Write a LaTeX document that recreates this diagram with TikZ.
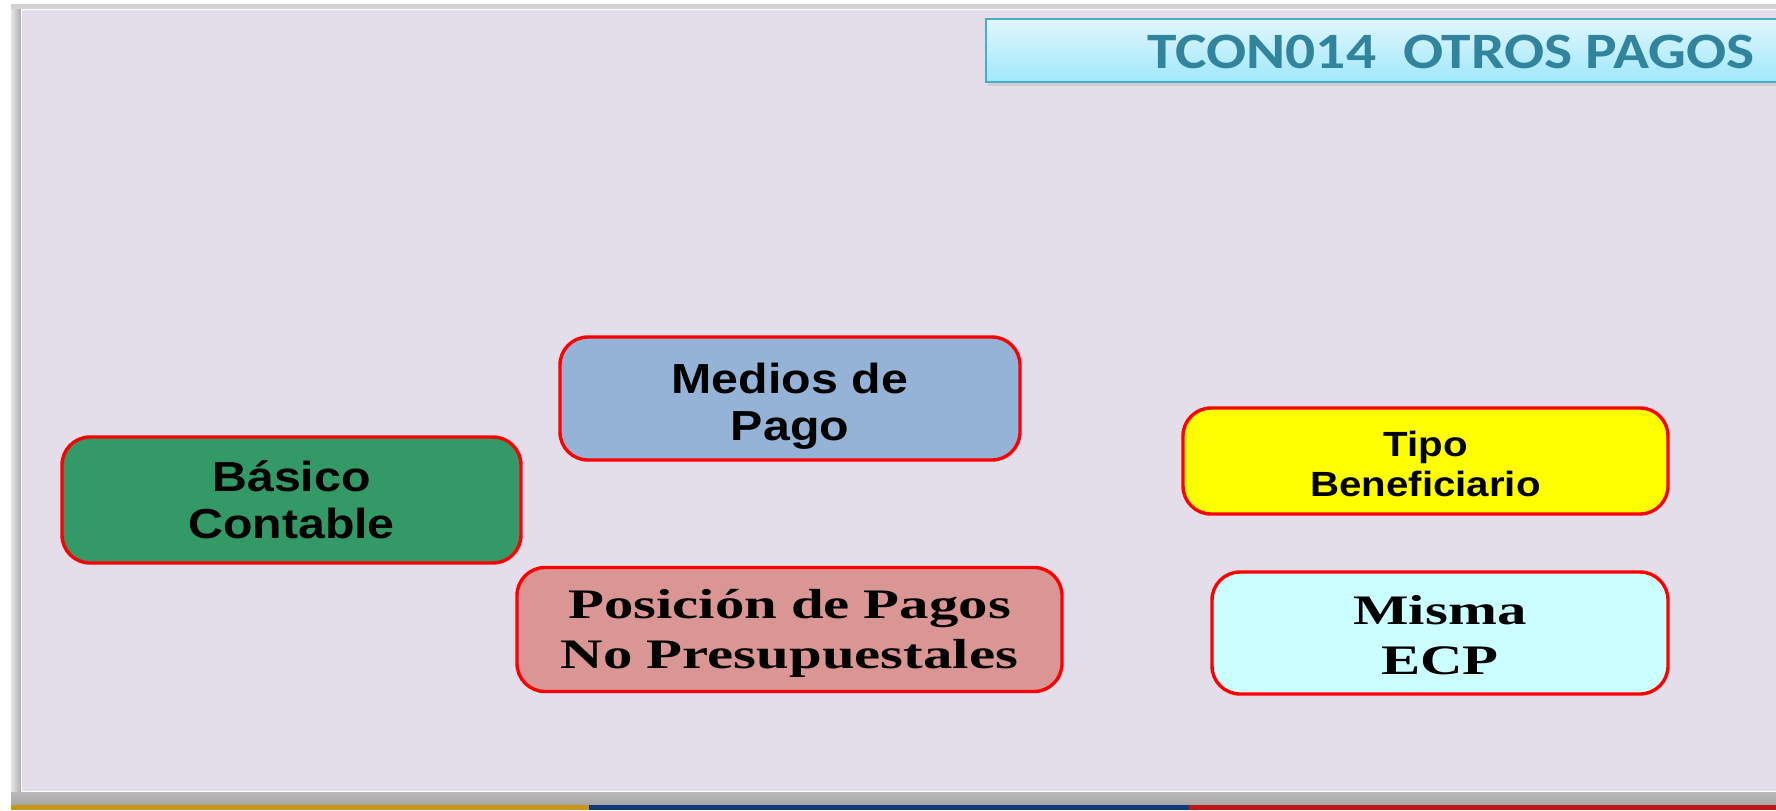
\documentclass[tikz,border=0pt]{standalone}
\usepackage{fontspec}
\newfontfamily\arialfont[FakeStretch=1.15]{Liberation Sans}
\newfontfamily\timesfont[FakeStretch=1.4]{Liberation Serif}
\newfontfamily\califont[FakeStretch=1.165]{Carlito}
\definecolor{lav}{HTML}{E4DEEB}
\definecolor{cgreen}{HTML}{339966}
\definecolor{cblue}{HTML}{95B3D7}
\definecolor{cyellow}{HTML}{FFFF00}
\definecolor{cpink}{HTML}{DA9694}
\definecolor{ccyan}{HTML}{CCFFFF}
\definecolor{titletext}{HTML}{31849B}
\definecolor{titleborder}{HTML}{4BACC6}
\definecolor{titletop}{HTML}{E0F6FD}
\definecolor{titlebot}{HTML}{A0E8FB}
\definecolor{sgold}{HTML}{C9961A}
\definecolor{sblue}{HTML}{143778}
\definecolor{sred}{HTML}{C0141A}
\begin{document}
\begin{tikzpicture}[x=0.5pt,y=-0.5pt,
  box/.style={draw=red, line width=1.7pt, rounded corners=14pt, align=center,
    inner sep=0pt, text=black, text width=215pt},
  sansbig/.style={font=\arialfont\bfseries\fontsize{21}{23.5}\selectfont,
    text height=15pt, text depth=23.5pt},
  sanssmall/.style={font=\arialfont\bfseries\fontsize{17.5}{20}\selectfont,
    text height=15pt, text depth=20pt},
  serifbig/.style={font=\timesfont\bfseries\fontsize{21}{25}\selectfont,
    text height=13.9pt, text depth=25pt},
]
\useasboundingbox (0,0) rectangle (1776,810);
\clip (0,0) rectangle (1776,810);
% background frame
\fill[white] (0,0) rectangle (1776,810);
\fill[gray!35] (11,4) rectangle (1776,805);
\shade[left color=gray!20, right color=gray!65] (11,9) rectangle (21,792);
\fill[white] (21,9) rectangle (1776,792);
\fill[lav] (22,10) rectangle (1776,791);
\shade[top color=gray!55, bottom color=gray!70] (11,792) rectangle (1776,805);
% bottom stripe
\fill[sgold] (11,805) rectangle (589,810);
\fill[sblue] (589,805) rectangle (1189,810);
\fill[sred] (1189,805) rectangle (1776,810);
% title bar
\fill[gray!50, opacity=0.5] (988,22) rectangle (1800,86);
\shade[top color=titletop, bottom color=titlebot] (986,19) rectangle (1800,82);
\draw[titleborder, line width=1pt] (1800,19) -- (986,19) -- (986,82) -- (1800,82);
\node[anchor=base west, inner sep=0pt, text=titletext,
  font=\califont\bfseries\fontsize{25.5}{30}\selectfont] (title) at (1147,68)
  {TCON014\ \ OTROS PAGOS};
% boxes
\node[box, sansbig, fill=cgreen, minimum width=229.5pt, minimum height=63pt]
  (basico) at (291.5,500) {Básico\\Contable};
\node[box, sansbig, text height=18pt, fill=cblue, minimum width=230pt, minimum height=61.5pt]
  (medios) at (790,398.5) {Medios de\\Pago};
\node[box, sanssmall, fill=cyellow, minimum width=242.5pt, minimum height=53pt]
  (tipo) at (1425.5,461) {Tipo\\Beneficiario};
\node[box, serifbig, text width=265pt, fill=cpink, minimum width=272.5pt, minimum height=62pt]
  (posicion) at (789.5,629.5) {Posición de Pagos\\No Presupuestales};
\node[box, serifbig, text height=16.5pt, fill=ccyan, minimum width=228pt, minimum height=61pt]
  (misma) at (1440,633) {Misma\\ECP};
\end{tikzpicture}
\end{document}
